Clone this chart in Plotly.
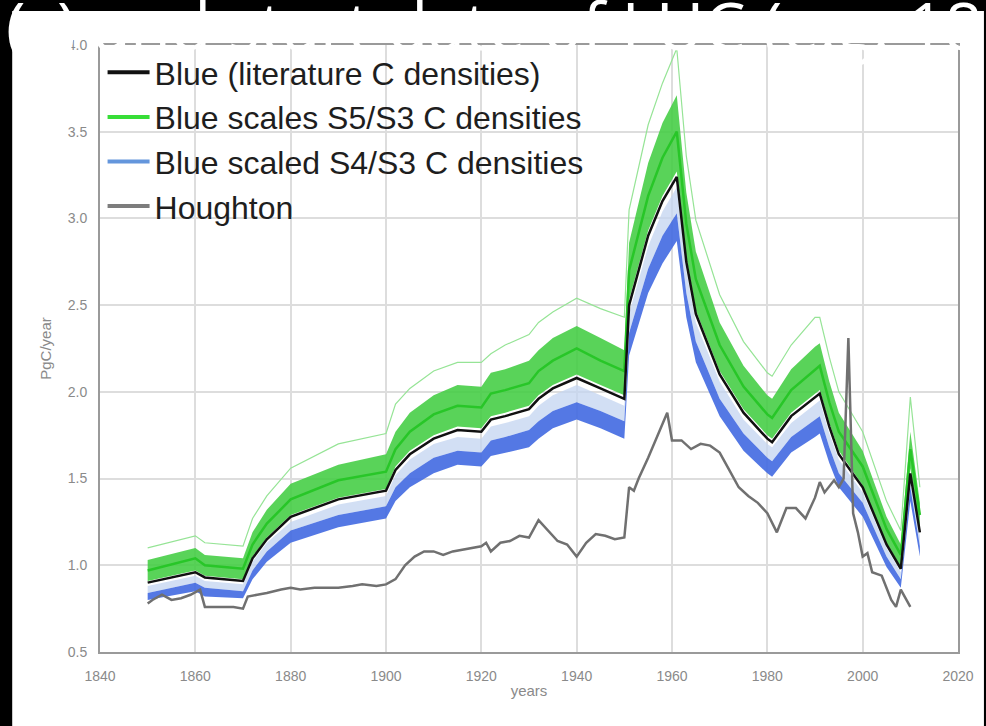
import plotly.graph_objects as go

# ---------------- data ----------------
years = [1850, 1860, 1862, 1870, 1872, 1875, 1880, 1890, 1900, 1902, 1905, 1910, 1915, 1920,
         1922, 1925, 1930, 1932, 1935, 1940, 1945, 1950, 1951, 1955, 1958, 1961, 1963, 1965,
         1970, 1975, 1980, 1981, 1985, 1990, 1991, 1993, 1995, 2000, 2005, 2008, 2010, 2012]

blue_lit = [0.90, 0.96, 0.93, 0.91, 1.04, 1.15, 1.28, 1.38, 1.43, 1.55, 1.64, 1.73, 1.78, 1.77,
            1.84, 1.86, 1.90, 1.96, 2.02, 2.08, 2.02, 1.96, 2.50, 2.90, 3.10, 3.24, 2.75, 2.45,
            2.10, 1.88, 1.73, 1.71, 1.86, 1.97, 1.99, 1.80, 1.64, 1.45, 1.12, 0.98, 1.53, 1.19]

s4_hi = [0.84, 0.90, 0.87, 0.85, 0.97, 1.08, 1.20, 1.29, 1.34, 1.45, 1.53, 1.62, 1.66, 1.65,
         1.72, 1.74, 1.78, 1.83, 1.89, 1.94, 1.89, 1.83, 2.34, 2.71, 2.90, 3.03, 2.57, 2.29,
         1.96, 1.76, 1.62, 1.60, 1.74, 1.84, 1.86, 1.68, 1.53, 1.36, 1.05, 0.92, 1.45, 1.11]
s4_lo = [0.80, 0.85, 0.82, 0.81, 0.92, 1.02, 1.13, 1.22, 1.27, 1.37, 1.45, 1.53, 1.58, 1.57,
         1.63, 1.65, 1.68, 1.73, 1.79, 1.84, 1.79, 1.73, 2.21, 2.57, 2.74, 2.87, 2.43, 2.17,
         1.86, 1.66, 1.53, 1.51, 1.65, 1.74, 1.76, 1.59, 1.45, 1.28, 0.99, 0.87, 1.37, 1.05]
pale_hi = [0.88, 0.94, 0.91, 0.89, 1.02, 1.13, 1.25, 1.35, 1.40, 1.52, 1.61, 1.70, 1.74, 1.73,
           1.80, 1.82, 1.86, 1.92, 1.98, 2.04, 1.98, 1.92, 2.45, 2.84, 3.04, 3.18, 2.70, 2.40,
           2.06, 1.84, 1.70, 1.68, 1.82, 1.93, 1.95, 1.76, 1.61, 1.42, 1.10, 0.96, 1.50, 1.17]

s5_lo = [0.91, 0.97, 0.94, 0.92, 1.05, 1.16, 1.29, 1.39, 1.44, 1.57, 1.66, 1.75, 1.80, 1.79,
         1.86, 1.88, 1.92, 1.98, 2.04, 2.10, 2.04, 1.98, 2.53, 2.93, 3.13, 3.27, 2.78, 2.47,
         2.12, 1.90, 1.75, 1.73, 1.88, 1.99, 2.01, 1.82, 1.66, 1.46, 1.13, 0.99, 1.56, 1.20]
s5_hi = [1.03, 1.10, 1.06, 1.04, 1.19, 1.32, 1.47, 1.58, 1.64, 1.77, 1.88, 1.98, 2.04, 2.03,
         2.11, 2.13, 2.18, 2.24, 2.31, 2.38, 2.31, 2.24, 2.86, 3.32, 3.55, 3.71, 3.15, 2.81,
         2.40, 2.15, 1.98, 1.96, 2.13, 2.26, 2.28, 2.06, 1.88, 1.66, 1.28, 1.12, 1.77, 1.36]
s5_mid = [0.97, 1.04, 1.00, 0.98, 1.12, 1.24, 1.38, 1.49, 1.54, 1.67, 1.77, 1.87, 1.92, 1.91,
          1.99, 2.01, 2.05, 2.12, 2.18, 2.25, 2.18, 2.12, 2.70, 3.13, 3.35, 3.50, 2.97, 2.65,
          2.27, 2.03, 1.87, 1.85, 2.01, 2.13, 2.15, 1.94, 1.77, 1.57, 1.21, 1.06, 1.67, 1.29]
s5_env = [1.10, 1.17, 1.13, 1.11, 1.27, 1.40, 1.56, 1.70, 1.76, 1.93, 2.02, 2.12, 2.17, 2.17,
          2.22, 2.27, 2.33, 2.40, 2.46, 2.54, 2.48, 2.43, 3.05, 3.54, 3.78, 3.98, 3.36, 2.99,
          2.56, 2.29, 2.11, 2.09, 2.27, 2.43, 2.43, 2.20, 2.00, 1.77, 1.37, 1.20, 1.97, 1.45]

h_years = [1850, 1851, 1853, 1855, 1857, 1859, 1861, 1862, 1865, 1868, 1870, 1871, 1873, 1875,
           1878, 1880, 1882, 1885, 1888, 1890, 1893, 1895, 1898, 1900, 1902, 1904, 1906, 1908,
           1910, 1912, 1914, 1916, 1918, 1920, 1921, 1922, 1924, 1926, 1928, 1930, 1932, 1934,
           1936, 1938, 1940, 1942, 1944, 1946, 1948, 1950, 1951, 1952, 1953, 1955, 1957, 1959,
           1960, 1962, 1964, 1966, 1968, 1970, 1972, 1974, 1976, 1978, 1980, 1982, 1984, 1986,
           1988, 1990, 1991, 1992, 1994, 1995, 1996, 1997, 1998, 1999, 2000, 2001, 2002, 2004,
           2006, 2007, 2008, 2010]
houghton = [0.78, 0.80, 0.83, 0.80, 0.81, 0.83, 0.86, 0.76, 0.76, 0.76, 0.75, 0.82, 0.83, 0.84,
            0.86, 0.87, 0.86, 0.87, 0.87, 0.87, 0.88, 0.89, 0.88, 0.89, 0.92, 1.00, 1.05, 1.08,
            1.08, 1.06, 1.08, 1.09, 1.10, 1.11, 1.13, 1.08, 1.13, 1.14, 1.17, 1.16, 1.26, 1.20,
            1.14, 1.12, 1.05, 1.13, 1.18, 1.17, 1.15, 1.16, 1.45, 1.43, 1.50, 1.62, 1.75, 1.88,
            1.72, 1.72, 1.67, 1.70, 1.69, 1.65, 1.55, 1.45, 1.40, 1.36, 1.30, 1.19, 1.33, 1.33,
            1.27, 1.39, 1.48, 1.42, 1.49, 1.45, 1.50, 2.31, 1.30, 1.19, 1.05, 1.07, 0.96, 0.94,
            0.80, 0.76, 0.86, 0.76]

legend_names = ["Blue (literature C densities)", "Blue scales S5/S3 C densities",
                "Blue scaled S4/S3 C densities", "Houghton"]
y_ticks = [0.5, 1.0, 1.5, 2.0, 2.5, 3.0, 3.5, 4.0]
x_ticks = [1840, 1860, 1880, 1900, 1920, 1940, 1960, 1980, 2000, 2020]
title_text = "(c) and start date of LUC (e.g. 1850)"

# ---------------- figure ----------------
fig = go.Figure()

def band(lo, hi, color):
    fig.add_trace(go.Scatter(x=years, y=lo, mode="lines", line=dict(width=0),
                             showlegend=False, hoverinfo="skip"))
    fig.add_trace(go.Scatter(x=years, y=hi, mode="lines", line=dict(width=0),
                             fill="tonexty", fillcolor=color, showlegend=False, hoverinfo="skip"))

# green envelope (thin)
fig.add_trace(go.Scatter(x=years, y=s5_env, mode="lines",
                         line=dict(color="rgb(150,228,150)", width=1.2),
                         showlegend=False, hoverinfo="skip"))
band(s5_lo, s5_hi, "rgba(66,205,66,0.88)")
fig.add_trace(go.Scatter(x=years, y=s5_mid, mode="lines",
                         line=dict(color="rgb(40,198,40)", width=2.5),
                         showlegend=False, hoverinfo="skip"))
band(s4_hi, pale_hi, "rgba(195,212,240,0.75)")
band(s4_lo, s4_hi, "rgba(65,105,225,0.9)")
fig.add_trace(go.Scatter(x=years, y=blue_lit, mode="lines",
                         line=dict(color="#111111", width=2.5),
                         showlegend=False, hoverinfo="skip"))
fig.add_trace(go.Scatter(x=h_years, y=houghton, mode="lines",
                         line=dict(color="rgb(112,112,112)", width=2.5),
                         showlegend=False, hoverinfo="skip"))

# legend entries
leg_colors = ["#111111", "rgb(55,222,55)", "rgb(100,150,220)", "rgb(125,125,125)"]
for i, (nm, c) in enumerate(zip(legend_names, leg_colors)):
    fig.add_trace(go.Scatter(x=[None], y=[None], mode="lines", name=nm,
                             line=dict(color=c, width=4), legendgroup=f"g{i}",
                             showlegend=True))

L, R, T, B = 100, 26, 45, 74
W, H = 986, 726
pw, ph = W - L - R, H - T - B

fig.add_shape(type="rect", xref="paper", yref="paper", layer="below",
              x0=(12 - L) / pw, x1=(W - L) / pw, y0=-(B) / ph, y1=1 + (T - 11) / ph,
              fillcolor="white", line=dict(width=0))

fig.add_annotation(text=title_text, xref="paper", yref="paper", showarrow=False,
                   x=(4 - L) / pw, xanchor="left", y=1 - (71 - T) / ph, yanchor="bottom",
                   font=dict(family="Open Sans", size=66, color="white"))

axis_common = dict(showgrid=True, gridcolor="#dddddd", gridwidth=1.5, showline=True,
                   linecolor="#9a9a9a", linewidth=2, mirror=True, zeroline=False,
                   ticks="outside", tickcolor="rgba(0,0,0,0)",
                   tickfont=dict(family="Liberation Sans", size=14, color="#8a8a8a"))

fig.update_layout(
    width=W, height=H,
    margin=dict(l=L, r=R, t=T, b=B),
    paper_bgcolor="black", plot_bgcolor="white",
    xaxis=dict(range=[1840, 2020], tickvals=x_ticks, ticktext=[str(v) for v in x_ticks],
               ticklen=10,
               title=dict(text="years", font=dict(family="Liberation Sans", size=15, color="#8a8a8a"),
                          standoff=3),
               **axis_common),
    yaxis=dict(range=[0.5, 4.0], tickvals=y_ticks, ticktext=[f"{v:.1f}" for v in y_ticks],
               ticklen=8,
               title=dict(text="PgC/year", font=dict(family="Liberation Sans", size=15, color="#8a8a8a"),
                          standoff=12),
               **axis_common),
    legend=dict(x=0.003, y=1.0, xanchor="left", yanchor="top", bgcolor="rgba(255,255,255,0)",
                font=dict(family="Liberation Sans", size=32, color="#1e1e1e"),
                itemwidth=42, tracegroupgap=0, traceorder="grouped"),
    showlegend=True,
)

fig.write_html("out.html")
